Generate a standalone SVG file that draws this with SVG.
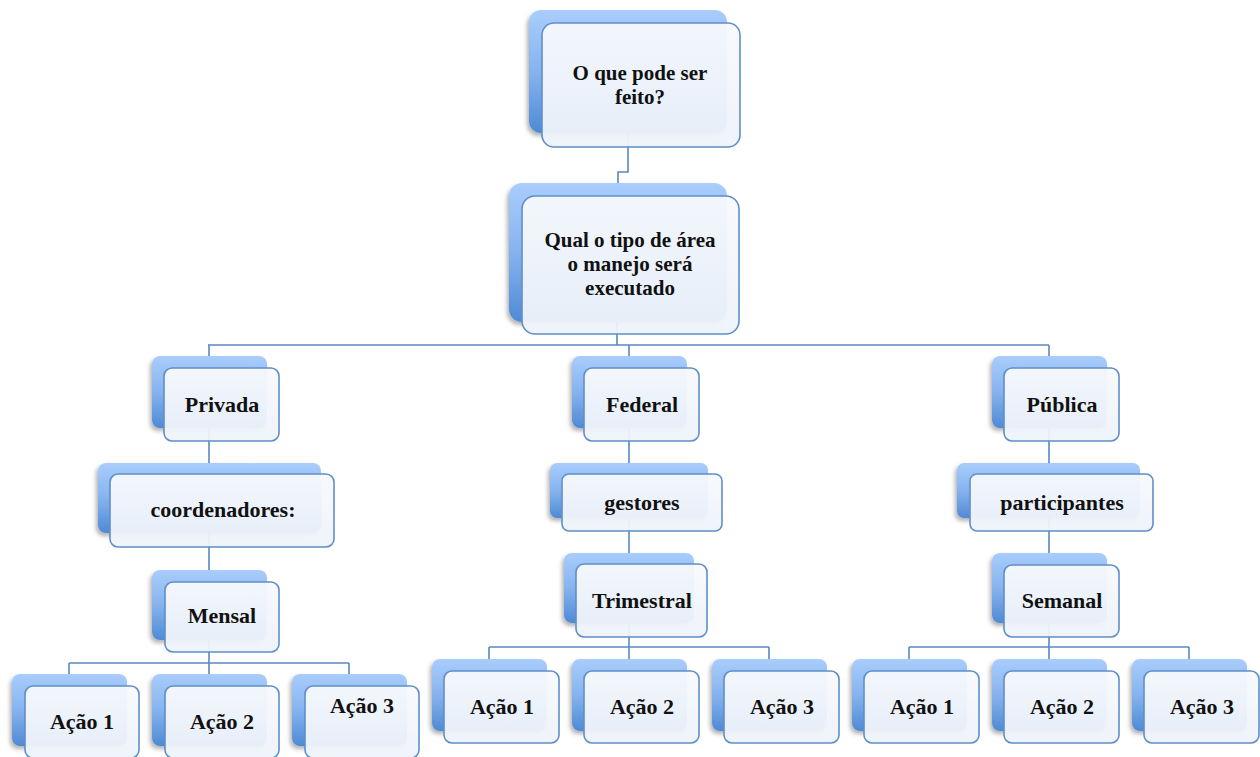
<svg xmlns="http://www.w3.org/2000/svg" width="1260" height="757" viewBox="0 0 1260 757">
<defs>
<linearGradient id="gBack" x1="0" y1="0" x2="0" y2="1">
<stop offset="0" stop-color="#a9cdfc"/>
<stop offset="0.5" stop-color="#86b3ef"/>
<stop offset="1" stop-color="#4e8ad5"/>
</linearGradient>
<linearGradient id="gFront" x1="0" y1="0" x2="0" y2="1">
<stop offset="0" stop-color="#f7f9fd"/>
<stop offset="1" stop-color="#eef3fa"/>
</linearGradient>
<filter id="sh" x="-20%" y="-20%" width="140%" height="150%">
<feDropShadow dx="-2" dy="3" stdDeviation="2.2" flood-color="#000" flood-opacity="0.3"/>
</filter>
</defs>
<style>
.back{fill:url(#gBack);filter:url(#sh)}
.front{fill:url(#gFront);fill-opacity:0.95;stroke:#5f8fc8;stroke-width:1.6}
.t{font-family:"Liberation Serif","Times New Roman",serif;font-weight:bold;font-size:22px;fill:#111;text-anchor:middle}
.m{font-size:21px}
.c{fill:none;stroke:#5b89c1;stroke-width:1.6}
</style>
<rect width="1260" height="757" fill="#fff"/>
<g id="connectors" class="c">
<path d="M628,133 V172 H618 V183"/>
<path d="M617,322 V345 M208,345 H1049 M209,345 V356 M629,345 V356 M1049,345 V356"/>
<path d="M209,428 V463 M209,533 V570 M209,640 V663 M69,663 H349 M69,663 V674 M209,663 V674 M349,663 V674"/>
<path d="M629,428 V463 M629,518 V553 M629,623 V647 M489,647 H769 M489,647 V659 M629,647 V659 M769,647 V659"/>
<path d="M1049,428 V463 M1049,518 V553 M1049,623 V647 M909,647 H1189 M909,647 V659 M1049,647 V659 M1189,647 V659"/>
</g>
<g id="n-top"><rect class="back" x="529" y="10" width="198" height="123" rx="12"/><rect class="front" x="542" y="23" width="198" height="124" rx="12"/><text class="t m" x="640" y="80">O que pode ser</text><text class="t m" x="640" y="104">feito?</text></g>
<g id="n-tipo"><rect class="back" x="509" y="183" width="218" height="139" rx="13"/><rect class="front" x="522" y="196" width="217" height="138" rx="13"/><text class="t m" x="630" y="247">Qual o tipo de área</text><text class="t m" x="630" y="271">o manejo será</text><text class="t m" x="630" y="295">executado</text></g>
<g id="n-privada"><rect class="back" x="152" y="356" width="115" height="72" rx="8"/><rect class="front" x="164" y="368" width="115" height="73" rx="8"/><text class="t" x="222" y="412">Privada</text></g>
<g id="n-federal"><rect class="back" x="572" y="356" width="115" height="72" rx="8"/><rect class="front" x="584" y="368" width="115" height="73" rx="8"/><text class="t" x="642" y="412">Federal</text></g>
<g id="n-publica"><rect class="back" x="992" y="356" width="115" height="72" rx="8"/><rect class="front" x="1004" y="368" width="115" height="73" rx="8"/><text class="t" x="1062" y="412">Pública</text></g>
<g id="n-coord"><rect class="back" x="98" y="463" width="223" height="70" rx="8"/><rect class="front" x="110" y="474" width="224" height="73" rx="8"/><text class="t" x="223" y="517">coordenadores:</text></g>
<g id="n-gestores"><rect class="back" x="550" y="463" width="158" height="55" rx="7"/><rect class="front" x="562" y="474" width="160" height="57" rx="7"/><text class="t" x="642" y="510">gestores</text></g>
<g id="n-part"><rect class="back" x="957" y="463" width="183" height="55" rx="7"/><rect class="front" x="970" y="474" width="183" height="57" rx="7"/><text class="t" x="1062" y="510">participantes</text></g>
<g id="n-mensal"><rect class="back" x="152" y="570" width="115" height="70" rx="8"/><rect class="front" x="165" y="582" width="114" height="70" rx="8"/><text class="t" x="222" y="623">Mensal</text></g>
<g id="n-trim"><rect class="back" x="564" y="553" width="130" height="70" rx="8"/><rect class="front" x="576" y="564" width="131" height="73" rx="8"/><text class="t" x="642" y="608">Trimestral</text></g>
<g id="n-semanal"><rect class="back" x="992" y="553" width="115" height="70" rx="8"/><rect class="front" x="1004" y="565" width="115" height="72" rx="8"/><text class="t" x="1062" y="608">Semanal</text></g>
<g id="n-pa1"><rect class="back" x="12" y="674" width="115" height="72" rx="8"/><rect class="front" x="25" y="686" width="114" height="72" rx="8"/><text class="t" x="82" y="729">Ação 1</text></g>
<g id="n-pa2"><rect class="back" x="152" y="674" width="115" height="72" rx="8"/><rect class="front" x="165" y="686" width="114" height="72" rx="8"/><text class="t" x="222" y="729">Ação 2</text></g>
<g id="n-pa3"><rect class="back" x="292" y="674" width="115" height="72" rx="8"/><rect class="front" x="305" y="686" width="114" height="72" rx="8"/><text class="t" x="362" y="713">Ação 3</text></g>
<g id="n-fa1"><rect class="back" x="432" y="659" width="115" height="72" rx="8"/><rect class="front" x="444" y="671" width="115" height="72" rx="8"/><text class="t" x="502" y="714">Ação 1</text></g>
<g id="n-fa2"><rect class="back" x="572" y="659" width="115" height="72" rx="8"/><rect class="front" x="584" y="671" width="115" height="72" rx="8"/><text class="t" x="642" y="714">Ação 2</text></g>
<g id="n-fa3"><rect class="back" x="712" y="659" width="115" height="72" rx="8"/><rect class="front" x="724" y="671" width="115" height="72" rx="8"/><text class="t" x="782" y="714">Ação 3</text></g>
<g id="n-ua1"><rect class="back" x="852" y="659" width="115" height="72" rx="8"/><rect class="front" x="864" y="671" width="115" height="72" rx="8"/><text class="t" x="922" y="714">Ação 1</text></g>
<g id="n-ua2"><rect class="back" x="992" y="659" width="115" height="72" rx="8"/><rect class="front" x="1004" y="671" width="115" height="72" rx="8"/><text class="t" x="1062" y="714">Ação 2</text></g>
<g id="n-ua3"><rect class="back" x="1132" y="659" width="115" height="72" rx="8"/><rect class="front" x="1144" y="671" width="115" height="72" rx="8"/><text class="t" x="1202" y="714">Ação 3</text></g>
</svg>
